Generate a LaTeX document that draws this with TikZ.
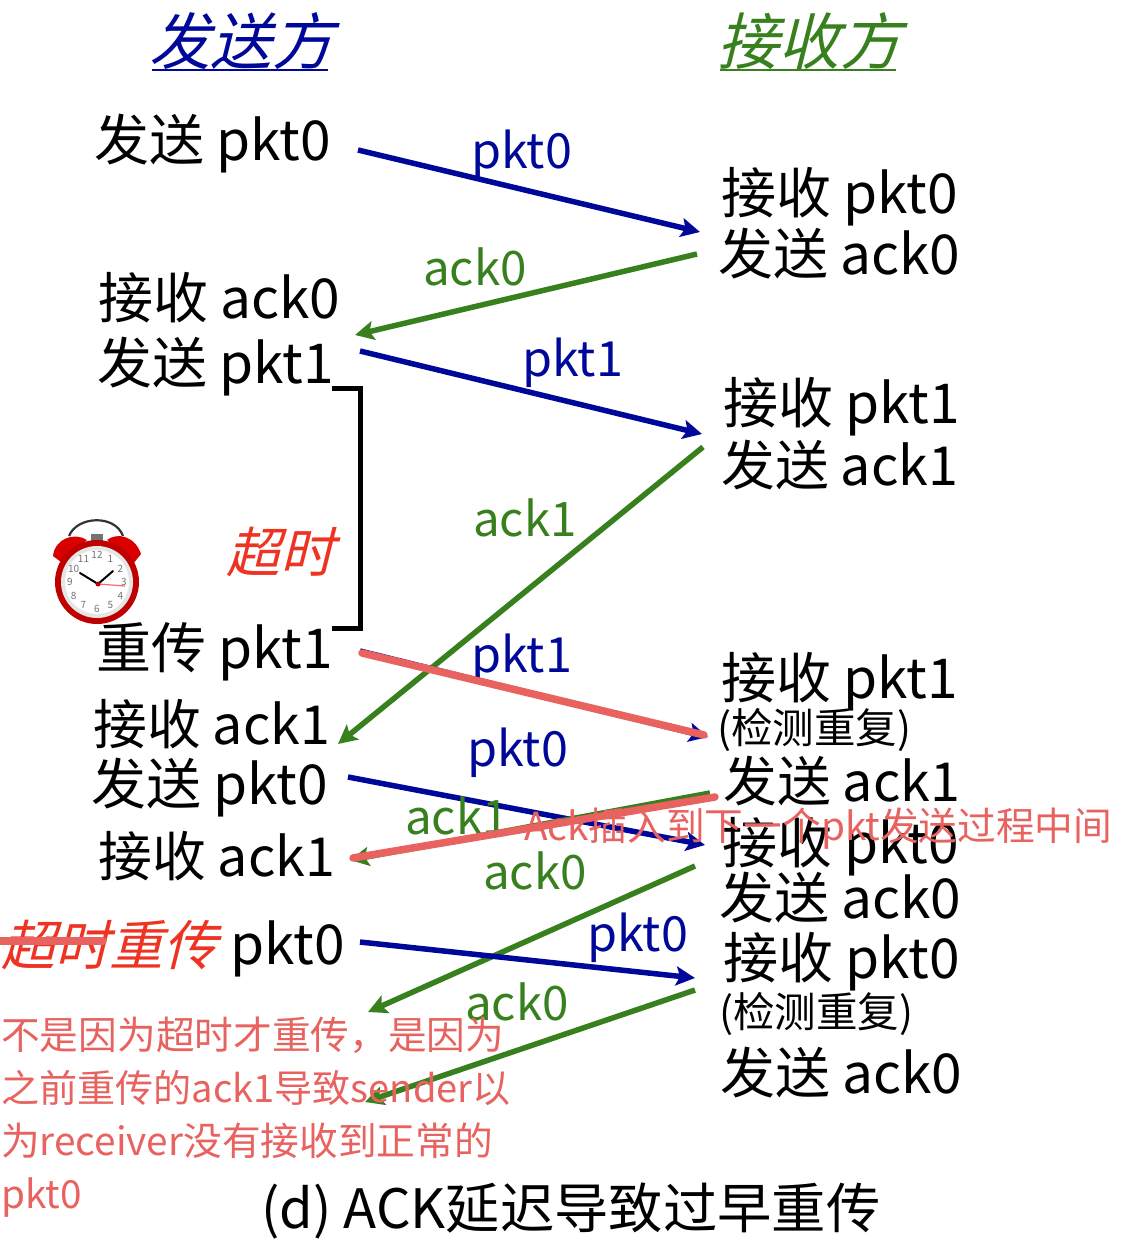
\documentclass[tikz,border=0pt]{standalone}
\usepackage{fontspec}
\setmainfont{Noto Sans CJK SC}
\newfontfamily\slantcjk[FakeSlant=0.25]{Noto Sans CJK SC}
\usetikzlibrary{arrows.meta}
\definecolor{pktblue}{HTML}{00089A}
\definecolor{ackgreen}{HTML}{38801E}
\definecolor{notered}{HTML}{E8625F}
\definecolor{hotred}{HTML}{EE3322}
\newcommand{\fsz}[1]{\fontsize{#1}{#1}\selectfont}
\tikzset{
 lab/.style={inner sep=0pt,anchor=base west,text=black,font=\fsz{55}},
 labk/.style={lab,font=\fsz{53.8}},
 small/.style={lab,font=\fsz{41.5}},
 pktlab/.style={lab,text=pktblue,font=\fsz{48.5}},
 acklab/.style={lab,text=ackgreen,font=\fsz{47.5}},
 noteline/.style={lab,text=notered,font=\fsz{38.7}},
 hot/.style={lab,text=hotred,font=\slantcjk\fsz{54}},
 head/.style={inner sep=0pt,anchor=base west,font=\slantcjk\fsz{61.5}},
 pktarrow/.style={draw=pktblue,line width=5.5pt,-{Stealth[length=19pt,width=19pt,inset=4pt]}},
 ackarrow/.style={draw=ackgreen,line width=5.5pt,-{Stealth[length=19pt,width=19pt,inset=4pt]}},
 overlay line/.style={draw=notered,line width=7.5pt,line cap=round},
 bracket/.style={draw=black,line width=5pt},
 ulinehead/.style={line width=2.5pt}
}
\begin{document}
\begin{tikzpicture}[x=1pt,y=-1pt]
\useasboundingbox (0,0) rectangle (1136,1242);
\fill[white] (0,0) rectangle (1136,1242);
% headers
\node[head,text=pktblue] (hs) at (149,64) {发送方};
\node[head,text=ackgreen] (hr) at (717,64) {接收方};
\coordinate (hsa) at (152,70); \coordinate (hsb) at (328,70);
\coordinate (hra) at (720,70); \coordinate (hrb) at (896,70);
\draw[ulinehead,pktblue] (hsa) -- (hsb);
\draw[ulinehead,ackgreen] (hra) -- (hrb);
% sender column
\node[lab] (s1) at (94,160) {发送 pkt0};
\node[lab] (s2) at (98,318) {接收 ack0};
\node[lab] (s3) at (97,383) {发送 pkt1};
\node[lab] (s4) at (96,668) {重传 pkt1};
\node[labk] (s5) at (93,744) {接收 ack1};
\node[lab] (s6) at (91,804) {发送 pkt0};
\node[labk] (s7) at (98,876) {接收 ack1};
\node[hot] (s8a) at (1,965) {超时重传};
\node[lab] (s8b) at (230,964) {pkt0};
\node[hot] (to) at (226,572) {超时};
% receiver column
\node[lab] (r1) at (721,213) {接收 pkt0};
\node[lab] (r2) at (718,274) {发送 ack0};
\node[lab] (r3) at (723,423) {接收 pkt1};
\node[labk] (r4) at (721,485) {发送 ack1};
\node[lab] (r5) at (721,698) {接收 pkt1};
\node[small] (r6) at (717,743) {(检测重复)};
\node[labk] (r7) at (723,801) {发送 ack1};
\node[lab] (r8) at (722,863) {接收 pkt0};
\node[lab] (r9) at (719,918) {发送 ack0};
\node[lab] (r10) at (723,978) {接收 pkt0};
\node[small] (r11) at (719,1027) {(检测重复)};
\node[lab] (r12) at (720,1093) {发送 ack0};
% arrow ends
\coordinate (a1) at (358,150); \coordinate (b1) at (700,232);
\coordinate (a2) at (697,254); \coordinate (b2) at (355,335);
\coordinate (a3) at (360,351); \coordinate (b3) at (702,434);
\coordinate (a4) at (703,447); \coordinate (b4) at (338,744);
\coordinate (a5) at (360,651); \coordinate (b5) at (708,737);
\coordinate (a6) at (348,777); \coordinate (b6) at (705,845);
\coordinate (a7) at (710,793); \coordinate (b7) at (350,860);
\coordinate (a8) at (695,866); \coordinate (b8) at (368,1012);
\coordinate (a9) at (360,942); \coordinate (b9) at (695,978);
\coordinate (a10) at (695,990); \coordinate (b10) at (365,1102);
\draw[pktarrow] (a1) -- (b1);
\draw[ackarrow] (a2) -- (b2);
\draw[pktarrow] (a3) -- (b3);
\draw[ackarrow] (a4) -- (b4);
\draw[pktarrow] (a5) -- (b5);
\draw[pktarrow] (a6) -- (b6);
\draw[ackarrow] (a7) -- (b7);
\draw[ackarrow] (a8) -- (b8);
\draw[pktarrow] (a9) -- (b9);
\draw[ackarrow] (a10) -- (b10);
% arrow labels
\node[pktlab] (l1) at (471,168) {pkt0};
\node[acklab] (l2) at (423,285) {ack0};
\node[pktlab] (l3) at (522,376) {pkt1};
\node[acklab] (l4) at (473,536) {ack1};
\node[pktlab] (l5) at (471,672) {pkt1};
\node[pktlab] (l6) at (467,766) {pkt0};
\node[acklab] (l7) at (405,834) {ack1};
\node[acklab] (l8) at (483,889) {ack0};
\node[pktlab] (l9) at (587,951) {pkt0};
\node[acklab] (l10) at (465,1020) {ack0};
% timeout bracket
\coordinate (t1) at (332,388); \coordinate (t2) at (332,628);
\draw[bracket] (t1) -- (360,388) -- (360,628) -- (t2);
% clock
\begin{scope}[shift={(97,582)}]
 \fill[black!55] (-6,-48) rectangle (6,-40);
 \draw[black!80,line width=2.2pt] (-28,-46) .. controls (-20,-66) and (18,-68) .. (26,-46);
 \fill[red!85!black] (-44,-26) .. controls (-42,-44) and (-22,-50) .. (-10,-42) -- (-36,-20) -- cycle;
 \fill[red!85!black] (44,-28) .. controls (38,-46) and (20,-50) .. (10,-42) -- (36,-18) -- cycle;
 \fill[red!75!black] (0,0) circle (42);
 \fill[black!10] (0,0) circle (36);
 \fill[white] (0,0) circle (32);
 \foreach \a/\t in {90/12,60/1,30/2,0/3,-30/4,-60/5,-90/6,-120/7,-150/8,180/9,150/10,120/11}
  \node[inner sep=0pt,text=black!55,font=\fsz{10}] at (-\a:27) {\t};
 \coordinate (ck) at (1,2);
 \draw[black,line width=2pt,line cap=round] (ck) -- (-17,-9);
 \draw[black,line width=2pt,line cap=round] (ck) -- (16,-11);
 \draw[red!60,line width=1.2pt] (ck) -- (28,4);
 \fill[red!70!black] (ck) circle (2.5);
\end{scope}
% red overlays
\coordinate (o1a) at (362,653); \coordinate (o1b) at (704,735);
\coordinate (o2a) at (715,797); \coordinate (o2b) at (353,858);
\coordinate (o3a) at (0,941); \coordinate (o3b) at (103,941);
\draw[overlay line] (o1a) -- (o1b);
\draw[overlay line] (o2a) -- (o2b);
\draw[overlay line] (o3a) -- (o3b);
% notes
\node[noteline] (n0) at (524,840) {Ack插入到下一个pkt发送过程中间};
\node[noteline] (n1) at (1,1049) {不是因为超时才重传，是因为};
\node[noteline,font=\fsz{38.1}] (n2) at (1,1102) {之前重传的ack1导致sender以};
\node[noteline] (n3) at (1,1155) {为receiver没有接收到正常的};
\node[noteline] (n4) at (1,1208) {pkt0};
% caption
\node[lab,font=\fsz{54.3}] (cap) at (261,1228) {(d) ACK延迟导致过早重传};
\end{tikzpicture}
\end{document}
